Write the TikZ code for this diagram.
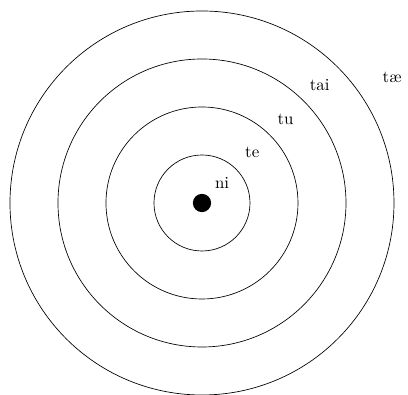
\documentclass[tikz,border=0pt]{standalone}
\usepackage{tikz}

\begin{document}
\begin{tikzpicture}[line cap=round, line join=round]
  \tikzset{ring/.style={draw=black, thin}, shelllabel/.style={inner sep=1pt}}
  \useasboundingbox (-4.208,-4.0) rectangle (4.292,4.229);

  \fill[black] (0,0) coordinate (nucleus) circle (0.19);
  \foreach \r in {1,...,4} {
    \draw[ring] (nucleus) circle (\r);
  }

  \node[shelllabel] (ni)  at (0.42,0.42) {ni};
  \node[shelllabel] (te)  at (45:1.48) {te};
  \node[shelllabel] (tu)  at (45:2.46) {tu};
  \node[shelllabel] (tai) at (45:3.47) {tai};
  \node[shelllabel] (tae) at (3.96,2.62) {t\ae};
\end{tikzpicture}
\end{document}
